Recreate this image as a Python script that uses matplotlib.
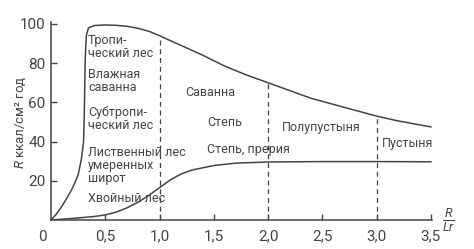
import matplotlib
matplotlib.use("Agg")
import matplotlib.pyplot as plt

plt.rcParams['font.family'] = ['Roboto', 'DejaVu Sans']
plt.rcParams['mathtext.fontset'] = 'custom'
plt.rcParams['mathtext.it'] = 'Roboto:italic'
plt.rcParams['mathtext.rm'] = 'Roboto'

# радиационный индекс сухости R/Lr
upper_x = [0.0, 0.05, 0.1, 0.15, 0.2, 0.25, 0.28, 0.3, 0.305, 0.31, 0.315, 0.325, 0.345,
           0.4, 0.5, 0.6, 0.7, 0.8, 0.9, 1.0, 1.2, 1.4, 1.6, 1.8, 2.0, 2.2,
           2.4, 2.5, 2.7, 2.9, 3.0, 3.2, 3.4, 3.5]
upper_y = [0, 3, 7, 11.5, 16.5, 23, 31, 40, 50, 65, 82, 94, 98,
           99.2, 99.5, 99.3, 98.8, 97.8, 96.3, 94, 89, 84, 78.5, 74, 70, 66,
           62, 60.5, 57.5, 54.5, 53, 50.5, 48.5, 47.5]

lower_x = [0.0, 0.2, 0.4, 0.5, 0.6, 0.7, 0.8, 0.9, 1.0, 1.1, 1.2, 1.3, 1.5,
           1.7, 2.0, 2.5, 3.0, 3.5]
lower_y = [0, 0.8, 1.8, 2.6, 4, 6.2, 9, 12.5, 16.5, 20.5, 23.5, 25.5, 27.8,
           29, 29.6, 29.8, 29.8, 29.7]

border_x = [1.0, 2.0, 3.0]
border_top = [94, 70, 53]

xtick_vals = [0.5, 1.0, 1.5, 2.0, 2.5, 3.0, 3.5]
xtick_labels = ['0,5', '1,0', '1,5', '2,0', '2,5', '3,0', '3,5']
ytick_vals = [20, 40, 60, 80, 100]

zone_labels = ['Тропи-\nческий лес', 'Влажная\nсаванна', 'Субтропи-\nческий лес',
               'Лиственный лес\nумеренных\nширот', 'Хвойный лес',
               'Саванна', 'Степь', 'Степь, прерия', 'Полупустыня', 'Пустыня']
zone_x = [0.34, 0.34, 0.34, 0.34, 0.34, 1.235, 1.44, 1.44, 2.13, 3.05]
zone_y = [88, 71, 51.5, 28, 11, 65, 49.5, 36, 47, 39]

ink = '#444444'

fig = plt.figure(figsize=(4.74, 2.49), dpi=100)
ax = fig.add_axes([51 / 474, 29 / 249, 381 / 474, 198 / 249])

ax.plot(upper_x, upper_y, color=ink, lw=1.1)
ax.plot(lower_x, lower_y, color=ink, lw=1.1)
for bx, bt in zip(border_x, border_top):
    ax.plot([bx, bx], [0, bt], color=ink, lw=0.9, ls=(0, (4, 3)))

for lab, tx, ty in zip(zone_labels, zone_x, zone_y):
    ax.text(tx, ty, lab, fontsize=9, color=ink, ha='left', va='center',
            linespacing=1.0)

ax.set_xlim(0, 3.51)
ax.set_ylim(0, 101)
ax.set_xticks(xtick_vals)
ax.set_xticklabels(xtick_labels)
ax.set_yticks(ytick_vals)
ax.tick_params(direction='in', length=4, width=1, colors=ink, labelsize=11, pad=4)
ax.tick_params(axis='x', pad=7)
for s in ['top', 'right']:
    ax.spines[s].set_visible(False)
for s in ['left', 'bottom']:
    ax.spines[s].set_color(ink)
    ax.spines[s].set_linewidth(1.1)

fig.text(42 / 474, 1 - 237 / 249, '0', fontsize=11, color=ink, ha='center', va='center')
fig.text(21 / 474, 1 - 122 / 249, '$R$ ккал/см² год', fontsize=9.5, color=ink,
         rotation=90, ha='center', va='center')
fig.text(449 / 474, 1 - 220 / 249, r'$\frac{R}{Lr}$', fontsize=13, color=ink,
         ha='center', va='center')

fig.savefig('out.png', dpi=100, facecolor='white')
